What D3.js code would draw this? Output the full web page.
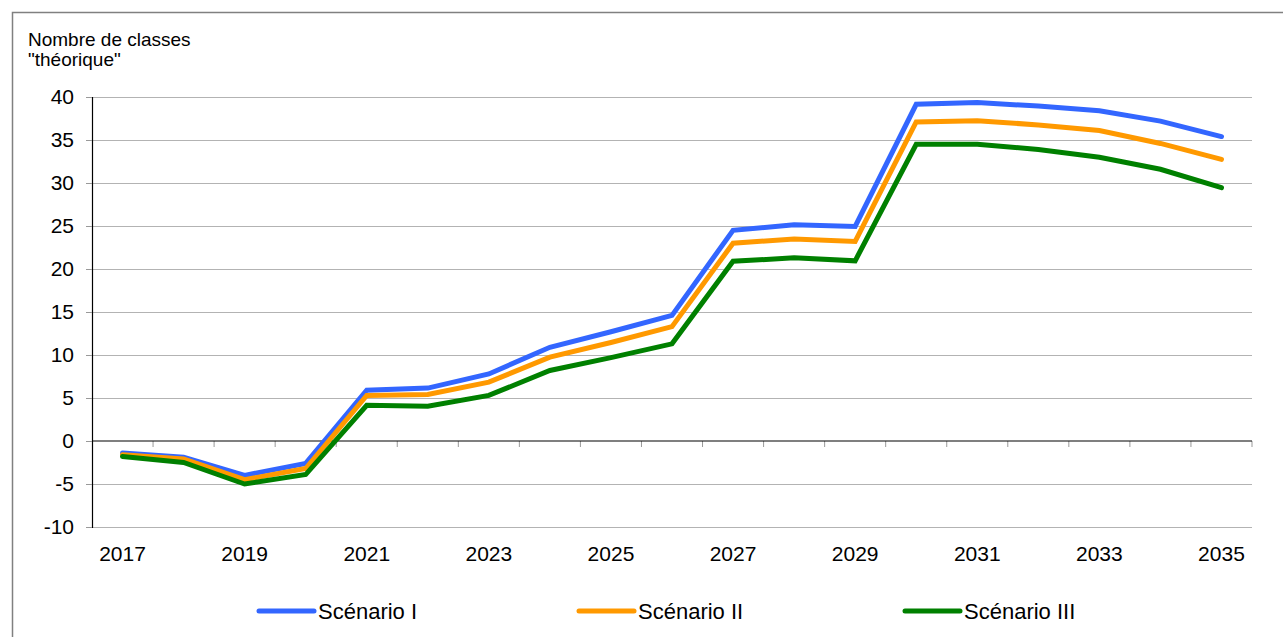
<!DOCTYPE html>
<html>
<head>
<meta charset="utf-8">
<script src="https://cdn.jsdelivr.net/npm/d3@7"></script>
<style>
  body { margin: 0; background: #fff; }
  svg { display: block; font-family: "Liberation Sans", Arial, sans-serif; }
</style>
</head>
<body>
<div id="chart"></div>
<script>
// data
var years = [2017, 2018, 2019, 2020, 2021, 2022, 2023, 2024, 2025, 2026,
             2027, 2028, 2029, 2030, 2031, 2032, 2033, 2034, 2035];
var scenario1 = [-1.4, -1.9, -4.0, -2.6, 5.9, 6.15, 7.8, 10.9, 12.7, 14.6,
                 24.5, 25.15, 24.95, 39.15, 39.35, 38.95, 38.4, 37.2, 35.4];
var scenario2 = [-1.6, -2.1, -4.5, -3.2, 5.3, 5.4, 6.85, 9.75, 11.45, 13.3,
                 23.0, 23.5, 23.2, 37.1, 37.25, 36.75, 36.1, 34.6, 32.75];
var scenario3 = [-1.8, -2.5, -5.0, -3.9, 4.15, 4.05, 5.3, 8.2, 9.7, 11.3,
                 20.9, 21.3, 20.95, 34.5, 34.5, 33.9, 33.0, 31.6, 29.45];
var seriesNames = ["Scénario I", "Scénario II", "Scénario III"];
var seriesColors = ["#3366ff", "#ff9900", "#008000"];
var yTicks = [-10, -5, 0, 5, 10, 15, 20, 25, 30, 35, 40];

var svgWidth = 1283;
var svgHeight = 637;

var margin = { top: 97, right: 31, bottom: 110, left: 92 };
var width = svgWidth - margin.left - margin.right;
var height = svgHeight - margin.top - margin.bottom;

var svg = d3.select("#chart")
  .append("svg")
  .attr("width", svgWidth)
  .attr("height", svgHeight);

// frame
svg.append("path")
  .attr("d", "M12.5," + svgHeight + "V12.5H" + svgWidth)
  .attr("fill", "none")
  .attr("stroke", "#808080")
  .attr("stroke-width", 1.5);

// y axis title
var yTitle = svg.append("text")
  .attr("x", 28)
  .attr("font-size", 19)
  .attr("fill", "#000");
yTitle.append("tspan").attr("x", 28).attr("y", 46).text("Nombre de classes");
yTitle.append("tspan").attr("x", 28).attr("y", 66).text("\"théorique\"");

var chartGroup = svg.append("g")
  .attr("transform", `translate(${margin.left}, ${margin.top})`);

var xScale = d3.scaleBand()
  .domain(years)
  .range([0, width])
  .padding(0);

var yScale = d3.scaleLinear()
  .domain([-10, 40])
  .range([height, 0]);

// gridlines
chartGroup.append("g")
  .selectAll("line")
  .data(yTicks.filter(d => d !== 0))
  .enter()
  .append("line")
  .attr("x1", 0)
  .attr("x2", width)
  .attr("y1", d => Math.round(yScale(d)) + 0.5)
  .attr("y2", d => Math.round(yScale(d)) + 0.5)
  .attr("stroke", "#b3b3b3")
  .attr("stroke-width", 1.2);

// y axis
var leftAxis = d3.axisLeft(yScale)
  .tickValues(yTicks)
  .tickSize(6)
  .tickPadding(12);
var yAxisG = chartGroup.append("g").call(leftAxis);
yAxisG.select(".domain").attr("stroke", "#000").attr("stroke-width", 1.2);
yAxisG.selectAll(".tick line").attr("stroke", "#999");
yAxisG.selectAll("text")
  .attr("font-size", 21)
  .attr("font-family", "Liberation Sans, Arial, sans-serif")
  .attr("fill", "#000")
  .text(d => d < 0 ? "-" + Math.abs(d) : d);

// zero line with category separators
var zeroG = chartGroup.append("g")
  .attr("transform", `translate(0, ${yScale(0)})`);
zeroG.selectAll("line.sep")
  .data(years.slice(1).concat(["end"]))
  .enter()
  .append("line")
  .attr("class", "sep")
  .attr("x1", d => d === "end" ? width : xScale(d))
  .attr("x2", d => d === "end" ? width : xScale(d))
  .attr("y1", 0)
  .attr("y2", 6)
  .attr("stroke", "#999");
zeroG.append("line")
  .attr("x1", 0).attr("x2", width)
  .attr("y1", 0).attr("y2", 0)
  .attr("stroke", "#000")
  .attr("stroke-width", 1.2);

// x labels at the bottom
var bottomAxis = d3.axisBottom(xScale)
  .tickValues(years.filter((d, i) => i % 2 === 0))
  .tickSize(0)
  .tickPadding(19);
var xAxisG = chartGroup.append("g")
  .attr("transform", `translate(0, ${height})`)
  .call(bottomAxis);
xAxisG.select(".domain").remove();
xAxisG.selectAll("text")
  .attr("font-size", 21)
  .attr("font-family", "Liberation Sans, Arial, sans-serif")
  .attr("fill", "#000");

// lines
var allSeries = [scenario1, scenario2, scenario3];
var line = d3.line()
  .x((d, i) => xScale(years[i]) + xScale.bandwidth() / 2)
  .y(d => yScale(d));

chartGroup.selectAll("path.series")
  .data(allSeries)
  .enter()
  .append("path")
  .attr("class", "series")
  .attr("d", d => line(d))
  .attr("fill", "none")
  .attr("stroke", (d, i) => seriesColors[i])
  .attr("stroke-width", 5)
  .attr("stroke-linejoin", "miter")
  .attr("stroke-linecap", "round");

// legend
var legendX = [259, 579, 905];
var legend = svg.append("g")
  .selectAll("g")
  .data(seriesNames)
  .enter()
  .append("g")
  .attr("transform", (d, i) => `translate(${legendX[i]}, 611)`);
legend.append("line")
  .attr("x1", 0).attr("x2", 55)
  .attr("y1", 0).attr("y2", 0)
  .attr("stroke", (d, i) => seriesColors[i])
  .attr("stroke-width", 5)
  .attr("stroke-linecap", "round");
legend.append("text")
  .attr("x", 59)
  .attr("y", 8)
  .attr("font-size", 22)
  .attr("fill", "#000")
  .text(d => d);
</script>
</body>
</html>
